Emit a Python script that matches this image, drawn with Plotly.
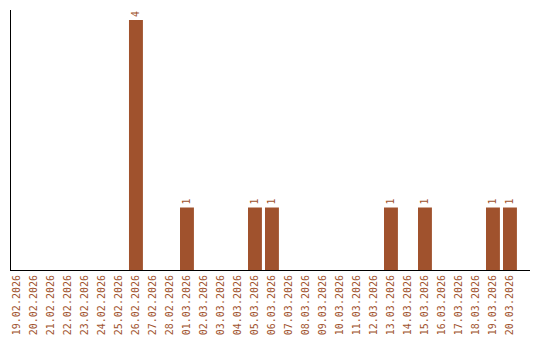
import plotly.graph_objects as go

dates = ["19.02.2026", "20.02.2026", "21.02.2026", "22.02.2026", "23.02.2026",
         "24.02.2026", "25.02.2026", "26.02.2026", "27.02.2026", "28.02.2026",
         "01.03.2026", "02.03.2026", "03.03.2026", "04.03.2026", "05.03.2026",
         "06.03.2026", "07.03.2026", "08.03.2026", "09.03.2026", "10.03.2026",
         "11.03.2026", "12.03.2026", "13.03.2026", "14.03.2026", "15.03.2026",
         "16.03.2026", "17.03.2026", "18.03.2026", "19.03.2026", "20.03.2026"]
counts = [0, 0, 0, 0, 0, 0, 0, 4, 0, 0,
          1, 0, 0, 0, 1, 1, 0, 0, 0, 0,
          0, 0, 1, 0, 1, 0, 0, 0, 1, 1]

color = "#A0522D"
font = "DejaVu Sans Mono"

labels = [str(c) if c > 0 else "" for c in counts]

fig = go.Figure(go.Bar(
    x=dates, y=counts, marker_color=color, marker_line_width=0,
    text=labels, textposition="outside", textangle=-90,
    textfont=dict(family=font, size=10, color=color),
    cliponaxis=False,
))

fig.update_layout(
    width=540, height=340,
    margin=dict(l=11, r=10, t=10, b=70, autoexpand=False),
    paper_bgcolor="white", plot_bgcolor="white",
    bargap=0.18, showlegend=False,
    xaxis=dict(type="category", range=[-0.35, 30.18], showline=True,
               linecolor="black", linewidth=1, showgrid=False, ticks="",
               tickangle=-90, tickfont=dict(family=font, size=10, color=color),
               automargin=False, fixedrange=True),
    yaxis=dict(range=[0, 4.16], showline=True, linecolor="black", linewidth=1,
               showgrid=False, zeroline=False, showticklabels=False, ticks="",
               automargin=False),
)

fig.write_html("out.html")
